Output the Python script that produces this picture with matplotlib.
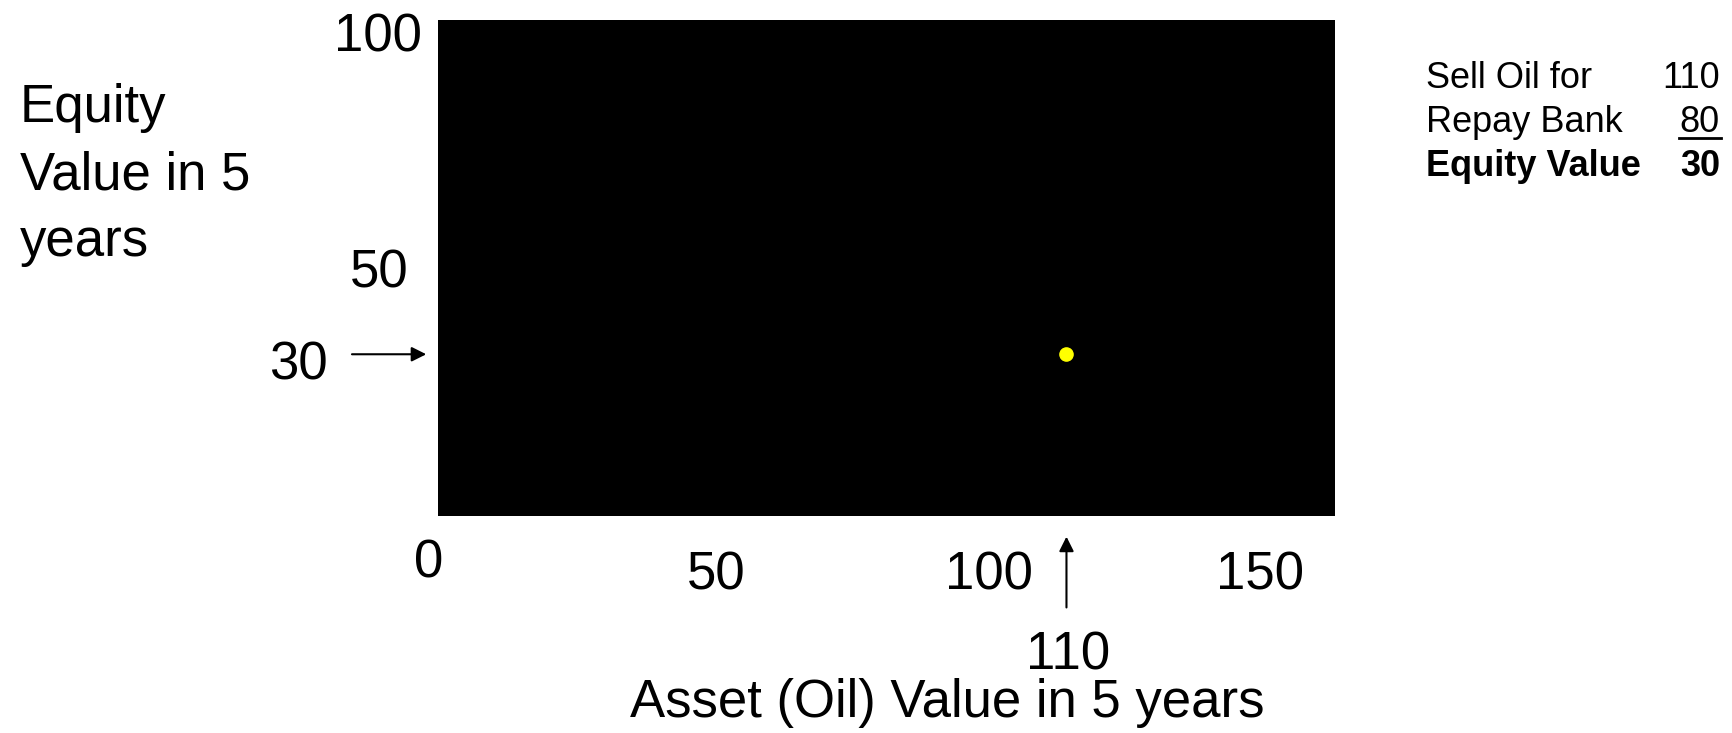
import matplotlib
matplotlib.use('Agg')
import matplotlib.pyplot as plt
from matplotlib.lines import Line2D

plt.rcParams['font.family'] = ['Liberation Sans', 'DejaVu Sans']

# Data
asset_value = [110]
equity_value = [30]
x_tick_labels = ['0', '50', '100', '150']
y_tick_labels = ['100', '50', '30']
table_labels = ['Sell Oil for', 'Repay Bank', 'Equity Value']
table_values = ['110', '80', '30']

W, H = 1733, 733
fig = plt.figure(figsize=(W / 100, H / 100), dpi=100)


def px(x, y):
    # pixel position (from top-left) -> figure fraction
    return x / W, 1 - y / H


ax = fig.add_axes([438 / W, 1 - 516 / H, (1335 - 438) / W, (516 - 20) / H])
ax.set_facecolor('black')
ax.set_xlim(0, 157)
ax.set_ylim(0, 92)
ax.set_xticks([])
ax.set_yticks([])
for s in ax.spines.values():
    s.set_visible(False)

ax.plot(asset_value, equity_value, 'o', color='#ffff00', markersize=9.5)

# y tick labels (placed loosely like the slide)
for lab, (x, y) in zip(y_tick_labels, [(422, 38), (409, 273), (328, 366)]):
    fig.text(*px(x, y), lab, fontsize=38, ha='right', va='center')

# x tick labels
for lab, (x, y) in zip(x_tick_labels, [(429, 563), (716, 575), (989, 575), (1260, 575)]):
    fig.text(*px(x, y), lab, fontsize=38, ha='center', va='center')

# arrows pointing at the dot's values
arrow = dict(arrowstyle='-|>', color='black', lw=1.5, mutation_scale=22)
ax.annotate('', xy=(-0.01, equity_value[0]), xycoords=ax.get_yaxis_transform(),
            xytext=(-0.099, equity_value[0]), textcoords=ax.get_yaxis_transform(),
            arrowprops=arrow)
ax.annotate('', xy=(asset_value[0], -0.036), xycoords=ax.get_xaxis_transform(),
            xytext=(asset_value[0], -0.19), textcoords=ax.get_xaxis_transform(),
            arrowprops=arrow)
fig.text(*px(1068, 655), str(asset_value[0]), fontsize=38, ha='center', va='center')

# axis titles
fig.text(*px(20, 175), 'Equity\nValue in 5\nyears', fontsize=38, ha='left', va='center',
         linespacing=1.44)
fig.text(*px(947, 703), 'Asset (Oil) Value in 5 years', fontsize=38, ha='center', va='center')

# little table on the right
rows_y = [79, 123, 167]
for i, (lab, val) in enumerate(zip(table_labels, table_values)):
    weight = 'bold' if i == 2 else 'normal'
    fig.text(*px(1426, rows_y[i]), lab, fontsize=26, ha='left', va='center', fontweight=weight)
    fig.text(*px(1720, rows_y[i]), val, fontsize=26, ha='right', va='center', fontweight=weight)
# underline under "80"
fig.add_artist(Line2D([1679 / W, 1721 / W], [1 - 138 / H, 1 - 138 / H],
                      transform=fig.transFigure, color='black', lw=2))

fig.savefig('out.png', dpi=100)
